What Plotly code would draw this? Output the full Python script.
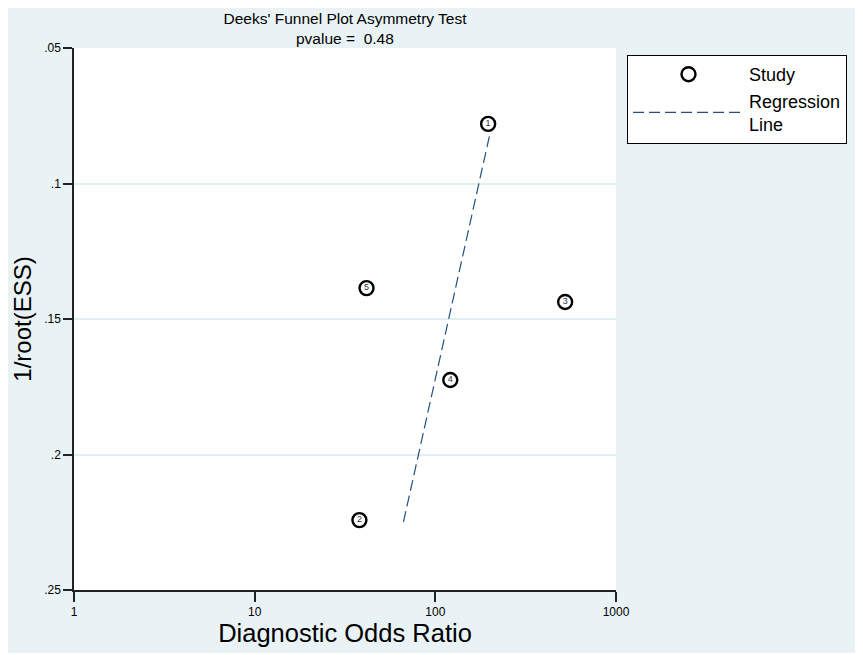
import plotly.graph_objects as go

study_ids = ["1", "2", "3", "4", "5"]
dor = [196, 38, 523, 121, 41.6]
inv_root_ess = [0.078, 0.2242, 0.1437, 0.1725, 0.1386]

reg_x = [66.6, 201]
reg_y = [0.2249, 0.0814]

x_tickvals = [1, 10, 100, 1000]
x_ticktext = ["1", "10", "100", "1000"]
y_tickvals = [0.05, 0.1, 0.15, 0.2, 0.25]
y_ticktext = [".05", ".1", ".15", ".2", ".25"]

title_line1 = "Deeks' Funnel Plot Asymmetry Test"
title_line2 = "pvalue =  0.48"

FONT = "Liberation Sans, Arial, sans-serif"

fig = go.Figure()
fig.add_trace(go.Scatter(
    x=dor, y=inv_root_ess, mode="markers+text", name="Study",
    text=study_ids, textposition="middle center",
    textfont=dict(size=9, color="#333333", family=FONT),
    marker=dict(symbol="circle-open", size=14, color="black", line=dict(width=2.4, color="black")),
))
fig.add_trace(go.Scatter(
    x=reg_x, y=reg_y, mode="lines", name="Regression<br>Line",
    line=dict(color="#24507f", width=1.2, dash="11px,5px"),
))

fig.update_layout(
    width=850, height=645,
    margin=dict(l=66, r=241, t=40, b=63),
    paper_bgcolor="#e9f2f4",
    plot_bgcolor="white",
    font=dict(family=FONT, color="black"),
    title=dict(text=title_line1, xref="paper", x=0.5, xanchor="center",
               yref="container", y=1 - 10.5 / 645, yanchor="middle",
               font=dict(size=15.5, family=FONT)),
    annotations=[dict(text=title_line2, xref="paper", yref="paper", x=0.5,
                      y=1 + 9 / 542, xanchor="center", yanchor="middle",
                      showarrow=False, font=dict(size=15.5, family=FONT))],
    showlegend=True,
    legend=dict(x=(627 - 74) / 543, y=1 - 7 / 542, xanchor="left", yanchor="top",
                bgcolor="white", bordercolor="black", borderwidth=1,
                font=dict(size=18, family=FONT), itemwidth=111,
                entrywidth=232),
    xaxis=dict(type="log", range=[0, 3], tickvals=x_tickvals, ticktext=x_ticktext,
               showgrid=False, zeroline=False, showline=True, linecolor="#222222", linewidth=1.5,
               ticks="outside", ticklen=10, tickwidth=1.5, tickcolor="#222222",
               tickfont=dict(size=12, family=FONT),
               title=dict(text="Diagnostic Odds Ratio", font=dict(size=25.5, family=FONT), standoff=4)),
    yaxis=dict(range=[0.25, 0.05], tickvals=y_tickvals, ticktext=y_ticktext,
               showgrid=True, gridcolor="#e0eff2", gridwidth=1.5, zeroline=False,
               showline=True, linecolor="#222222", linewidth=1.5,
               ticks="outside", ticklen=9, tickwidth=1.5, tickcolor="#222222",
               tickfont=dict(size=12, family=FONT),
               title=dict(text="1/root(ESS)", font=dict(size=24, family=FONT), standoff=6)),
)

fig.write_html("out.html")
